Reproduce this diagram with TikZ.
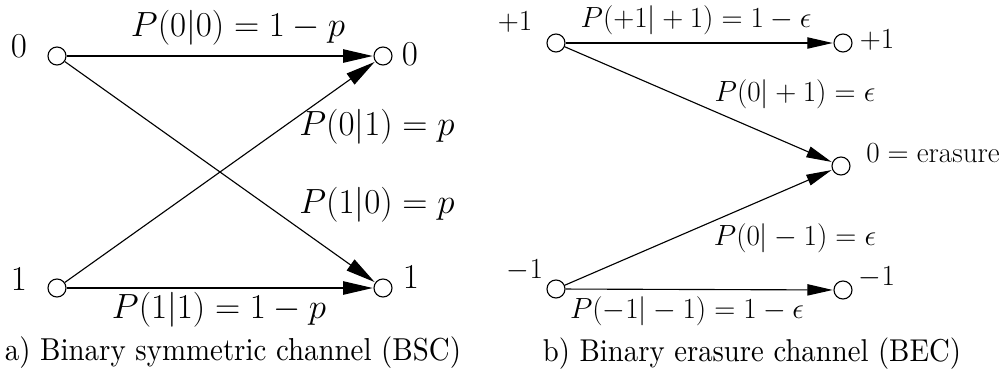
\documentclass[tikz,border=0pt]{standalone}
\usepackage{fontspec}
\newfontfamily\capfont{Latin Modern Roman}[FakeStretch=0.91]
\usetikzlibrary{arrows.meta}

\begin{document}
\begin{tikzpicture}[x=0.025cm, y=-0.025cm, line width=0.8pt,
    io/.style={circle, draw, fill=white, minimum size=0.45cm, inner sep=0pt},
    lmath/.style={font=\fontsize{23.8}{28}\selectfont, inner sep=0pt},
    rmath/.style={font=\fontsize{20.7}{25}\selectfont, inner sep=0pt},
    caption/.style={font=\capfont, inner sep=0pt},
    bigtip/.style={-{Triangle[length=21pt,width=9.5pt]}, shorten >=0.5pt},
    smalltip/.style={-{Triangle[length=18pt,width=8pt]}, shorten >=0.5pt}]
    \useasboundingbox (0,0) rectangle (1008,378);
    % binary symmetric channel
    \node[io] (x0) at (57,56) {};
    \node[io] (x1) at (57,288) {};
    \node[io] (y0) at (383,56) {};
    \node[io] (y1) at (383,288) {};
    \node[lmath] (x0l) at (19,46) {$0$};
    \node[lmath] (x1l) at (19,279) {$1$};
    \node[lmath] (y0l) at (410,54) {$0$};
    \node[lmath] (y1l) at (411,277) {$1$};
    \draw[bigtip] (x0) -- (y0);
    \draw[bigtip] (x0) -- (y1);
    \draw[bigtip] (x1) -- (y0);
    \draw[bigtip] (x1) -- (y1);
    \node[lmath] (p00) at (238,28) {$P(0|0) = 1-p$};
    \node[lmath] (p01) at (377,127) {$P(0|1) = p$};
    \node[lmath] (p10) at (377,205) {$P(1|0) = p$};
    \node[lmath] (p11) at (219,310) {$P(1|1) = 1-p$};
    \node[caption] (capa) at (233,353) {\resizebox{11.4cm}{!}{a) Binary symmetric channel (BSC)}};
    % binary erasure channel
    \node[io] (up) at (556,43) {};
    \node[io] (um) at (556,289) {};
    \node[io] (vp) at (843,43) {};
    \node[io] (ve) at (841,166) {};
    \node[io] (vm) at (843,290) {};
    \node[rmath] (upl) at (515,22) {$+1$};
    \node[rmath] (uml) at (525,270) {$-1$};
    \node[rmath] (vpl) at (877,40) {$+1$};
    \node[rmath] (vel) at (933,153) {$0 = \mathrm{erasure}$};
    \node[rmath] (vml) at (877,277) {$-1$};
    \draw[smalltip] (up) -- (vp);
    \draw[smalltip] (up) -- (ve);
    \draw[smalltip] (um) -- (ve);
    \draw[smalltip] (um) -- (vm);
    \node[rmath] (qpp) at (696,20) {$P(+1|+1) = 1-\epsilon$};
    \node[rmath] (qep) at (795,94) {$P(0|+1) = \epsilon$};
    \node[rmath] (qem) at (795,238) {$P(0|-1) = \epsilon$};
    \node[rmath] (qmm) at (687,311) {$P(-1|-1) = 1-\epsilon$};
    \node[caption] (capb) at (752,354) {\resizebox{10.45cm}{!}{b) Binary erasure channel (BEC)}};
\end{tikzpicture}
\end{document}
